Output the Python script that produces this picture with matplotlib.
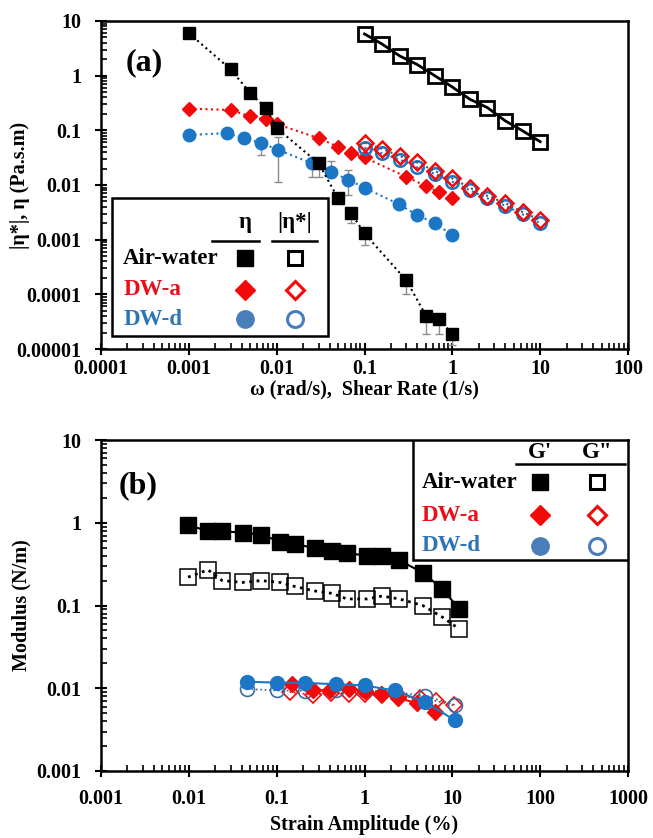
import matplotlib
matplotlib.use("Agg")
import matplotlib.pyplot as plt
from matplotlib.patches import Rectangle
from matplotlib.lines import Line2D
from matplotlib.ticker import LogLocator, NullFormatter, FixedLocator, FixedFormatter
import numpy as np

plt.rcParams['font.family'] = ['Liberation Serif', 'DejaVu Serif']
plt.rcParams['font.weight'] = 'bold'

RED = '#f20a0a'
BLUE = '#1c76c6'
LEG_BLUE = '#4a7ebb'
TXT_BLUE = '#2e75b6'

# ---------------- Panel (a) data ----------------
aw_eta_x = [0.001, 0.003, 0.005, 0.0075, 0.01, 0.03, 0.05, 0.07, 0.1, 0.3, 0.5, 0.7, 1.0]
aw_eta_y = [6.0, 1.3, 0.48, 0.26, 0.11, 0.025, 0.0057, 0.0031, 0.0013, 0.00018, 0.000041, 0.000035, 0.000019]
aw_eta_lo = [0, 0, 0, 0, 0, 0.014, 0, 0.002, 0.0008, 0.0001, 0.000019, 0.000019, 0.000012]

dwa_eta_x = [0.001, 0.003, 0.005, 0.0075, 0.01, 0.03, 0.05, 0.07, 0.1, 0.3, 0.5, 0.7, 1.0]
dwa_eta_y = [0.25, 0.235, 0.18, 0.16, 0.13, 0.072, 0.05, 0.039, 0.032, 0.014, 0.0096, 0.0074, 0.0057]

dwd_eta_x = [0.001, 0.0027, 0.0042, 0.0066, 0.0104, 0.025, 0.042, 0.065, 0.1, 0.25, 0.4, 0.64, 1.0]
dwd_eta_y = [0.082, 0.089, 0.072, 0.059, 0.044, 0.025, 0.017, 0.0126, 0.0089, 0.0044, 0.0028, 0.002, 0.0012]
dwd_eta_lo = [0, 0, 0, 0.035, 0.0115, 0.014, 0.014, 0.0065, 0, 0, 0, 0, 0]
dwd_eta_hi = [0, 0, 0, 0, 0.075, 0.026, 0.028, 0.019, 0, 0, 0, 0, 0]

omega = [0.1, 0.158, 0.251, 0.398, 0.631, 1.0, 1.585, 2.512, 3.981, 6.31, 10.0]
aw_star = [5.8, 3.8, 2.3, 1.6, 1.0, 0.62, 0.37, 0.26, 0.15, 0.098, 0.062]
dwa_star = [0.059, 0.046, 0.034, 0.026, 0.018, 0.0132, 0.0089, 0.0063, 0.0047, 0.0032, 0.0023]
dwd_star = [0.048, 0.038, 0.029, 0.021, 0.016, 0.0115, 0.0080, 0.0057, 0.0042, 0.0029, 0.0020]

# ---------------- Panel (b) data ----------------
aw_strain = [0.0098, 0.0165, 0.024, 0.041, 0.066, 0.11, 0.16, 0.27, 0.43, 0.63, 1.07, 1.58, 2.5, 4.6, 7.6, 12.0]
aw_Gp = [0.93, 0.80, 0.79, 0.76, 0.72, 0.59, 0.56, 0.49, 0.46, 0.43, 0.40, 0.40, 0.35, 0.25, 0.16, 0.091]
aw_Gpp = [0.22, 0.27, 0.20, 0.19, 0.20, 0.19, 0.17, 0.15, 0.14, 0.12, 0.12, 0.13, 0.12, 0.10, 0.073, 0.052]

dwa_strain = [0.15, 0.26, 0.4, 0.66, 1.0, 1.55, 2.4, 4.0, 6.3]
dwa_Gp = [0.0112, 0.0094, 0.0094, 0.0097, 0.0093, 0.0085, 0.0076, 0.0066, 0.0052]
dwa_strain2 = [0.14, 0.26, 0.42, 0.66, 1.0, 1.6, 2.5, 4.3, 6.6, 10.5]
dwa_Gpp = [0.009, 0.0083, 0.0087, 0.0086, 0.0085, 0.0084, 0.008, 0.0076, 0.007, 0.0062]

dwd_strain = [0.046, 0.1, 0.21, 0.47, 1.0, 2.2, 4.9, 10.7]
dwd_Gp = [0.0120, 0.0117, 0.0116, 0.0112, 0.0108, 0.0094, 0.0068, 0.0041]
dwd_Gpp = [0.0098, 0.0094, 0.0093, 0.0094, 0.0095, 0.009, 0.0081, 0.0063]

W, H = 653, 838
fig = plt.figure(figsize=(W / 100, H / 100), dpi=100)

def frac_axes(x0, y0, x1, y1):
    return fig.add_axes([x0 / W, 1 - y1 / H, (x1 - x0) / W, (y1 - y0) / H])

axA = frac_axes(101, 21, 628, 349)
axB = frac_axes(101, 440, 628, 771)

def style_axis(ax, xlim, ylim, xticks, xlabels, yticks, ylabels, xpad):
    ax.set_xscale('log')
    ax.set_yscale('log')
    ax.set_xlim(*xlim)
    ax.set_ylim(*ylim)
    ax.xaxis.set_major_locator(FixedLocator(xticks))
    ax.xaxis.set_major_formatter(FixedFormatter(xlabels))
    ax.yaxis.set_major_locator(FixedLocator(yticks))
    ax.yaxis.set_major_formatter(FixedFormatter(ylabels))
    ax.xaxis.set_minor_locator(LogLocator(base=10, subs=np.arange(2, 10), numticks=20))
    ax.yaxis.set_minor_locator(LogLocator(base=10, subs=np.arange(2, 10), numticks=20))
    ax.xaxis.set_minor_formatter(NullFormatter())
    ax.yaxis.set_minor_formatter(NullFormatter())
    ax.tick_params(which='major', direction='inout', length=8, width=1.5, labelsize=14.5)
    ax.tick_params(axis='x', which='major', pad=xpad)
    ax.tick_params(axis='y', which='major', pad=10)
    ax.tick_params(which='minor', direction='in', length=4, width=1.2)
    ax.tick_params(top=False, right=False, which='both')
    for s in ax.spines.values():
        s.set_linewidth(1.8)
    for lab in ax.get_xticklabels() + ax.get_yticklabels():
        lab.set_fontweight('bold')

style_axis(axA, (1e-4, 100), (1e-5, 10),
           [1e-4, 1e-3, 1e-2, 1e-1, 1, 10, 100],
           ['0.0001', '0.001', '0.01', '0.1', '1', '10', '100'],
           [1e-5, 1e-4, 1e-3, 1e-2, 1e-1, 1, 10],
           ['0.00001', '0.0001', '0.001', '0.01', '0.1', '1', '10'], 3)
style_axis(axB, (1e-3, 1000), (1e-3, 10),
           [1e-3, 1e-2, 1e-1, 1, 10, 100, 1000],
           ['0.001', '0.01', '0.1', '1', '10', '100', '1000'],
           [1e-3, 1e-2, 1e-1, 1, 10],
           ['0.001', '0.01', '0.1', '1', '10'], 9)

LEG_FS = 16.5

# ---------- Panel (a) plotting ----------
ax = axA
aw_y = np.array(aw_eta_y)
lo = np.array(aw_eta_lo)
mask = lo > 0
ax.errorbar(np.array(aw_eta_x)[mask], aw_y[mask],
            yerr=[aw_y[mask] - lo[mask], np.zeros(mask.sum())],
            fmt='none', ecolor='#8c8c8c', elinewidth=1, capsize=3, zorder=2)
dy = np.array(dwd_eta_y)
dlo = np.array(dwd_eta_lo)
dhi = np.array(dwd_eta_hi)
m2 = dlo > 0
ax.errorbar(np.array(dwd_eta_x)[m2], dy[m2],
            yerr=[dy[m2] - dlo[m2], np.where(dhi[m2] > 0, dhi[m2] - dy[m2], 0)],
            fmt='none', ecolor='#8c8c8c', elinewidth=1, capsize=3, zorder=2)

ax.plot(dwa_eta_x, dwa_eta_y, linestyle=':', color=RED, lw=1.5, marker='D',
        markersize=7.5, markerfacecolor=RED, markeredgecolor=RED, zorder=3)
ax.plot(dwd_eta_x, dwd_eta_y, linestyle=':', color=BLUE, lw=1.5, marker='o',
        markersize=9, markerfacecolor=BLUE, markeredgecolor=BLUE, zorder=3)
ax.plot(omega, dwd_star, linestyle=':', color=BLUE, lw=1.5, marker='o',
        markersize=9, markerfacecolor='none', markeredgecolor=BLUE, markeredgewidth=1.8, zorder=4)
ax.plot(omega, dwa_star, linestyle=':', color='#555555', lw=1.5, marker='D',
        markersize=8, markerfacecolor='none', markeredgecolor=RED, markeredgewidth=1.8, zorder=5)
ax.plot(aw_eta_x, aw_eta_y, linestyle=':', color='black', lw=1.5, marker='s',
        markersize=9, markerfacecolor='black', markeredgecolor='black', zorder=6)
ax.plot(omega, aw_star, linestyle='-', color='black', lw=2, marker='s',
        markersize=10, markerfacecolor='none', markeredgecolor='black', markeredgewidth=2, zorder=6)

ax.text(0.083, 0.872, '(a)', transform=ax.transAxes, fontsize=23, fontweight='bold',
        ha='center', va='center')
ax.set_xlabel('ω (rad/s),  Shear Rate (1/s)', fontsize=14.5, fontweight='bold')
ax.set_ylabel('|η*|, η (Pa.s.m)', fontsize=14.5, fontweight='bold')
ax.xaxis.set_label_coords(0.5, -0.092)
ax.yaxis.set_label_coords(-0.135, 0.5)

# legend (a)
ax.add_patch(Rectangle((0.021, 0.04), 0.41, 0.42, transform=ax.transAxes,
                       facecolor='white', edgecolor='black', lw=1.8, zorder=10))
ax.text(0.273, 0.387, 'η', transform=ax.transAxes, fontsize=LEG_FS, fontweight='bold',
        ha='center', va='center', zorder=11)
ax.text(0.368, 0.387, '|η*|', transform=ax.transAxes, fontsize=LEG_FS, fontweight='bold',
        ha='center', va='center', zorder=11)
for x0, x1 in [(0.211, 0.300), (0.3245, 0.41)]:
    ax.add_line(Line2D([x0, x1], [0.329, 0.329], transform=ax.transAxes, color='black',
                       lw=1.8, zorder=11))

MK_FILLED = {'s': 12, 'D': 10.5, 'o': 12.5}
MK_OPEN = {'s': 10, 'D': 9.5, 'o': 11.5}

def legend_rows(ax, rows, xtext, xm1, xm2):
    for name, tcol, yy, mk, fc, ec in rows:
        ax.text(xtext, yy, name, transform=ax.transAxes, fontsize=LEG_FS, fontweight='bold',
                color=tcol, ha='left', va='center', zorder=11)
        ax.add_line(Line2D([xm1], [yy], transform=ax.transAxes, marker=mk, markersize=MK_FILLED[mk],
                           markerfacecolor=fc, markeredgecolor=ec, linestyle='none', zorder=11))
        ax.add_line(Line2D([xm2], [yy], transform=ax.transAxes, marker=mk, markersize=MK_OPEN[mk],
                           markerfacecolor='white', markeredgecolor=ec, markeredgewidth=2.2,
                           linestyle='none', zorder=11))

rowsA = [('Air-water', 'black', 0.277, 's', 'black', 'black'),
         ('DW-a', '#e8101a', 0.18, 'D', RED, RED),
         ('DW-d', TXT_BLUE, 0.091, 'o', LEG_BLUE, LEG_BLUE)]
legend_rows(ax, rowsA, 0.042, 0.273, 0.368)

# ---------- Panel (b) plotting ----------
ax = axB
ax.plot(aw_strain, aw_Gpp, linestyle=':', color='black', lw=2, marker='s',
        markersize=11, markerfacecolor='none', markeredgecolor='black', markeredgewidth=1.1, zorder=3)
ax.plot(aw_strain, aw_Gp, linestyle='-', color='black', lw=1.5, marker='s',
        markersize=11, markerfacecolor='black', markeredgecolor='black', zorder=4)
ax.plot(dwa_strain2, dwa_Gpp, linestyle=':', color=RED, lw=1.2, marker='D',
        markersize=8, markerfacecolor='none', markeredgecolor=RED, markeredgewidth=1.2, zorder=3)
ax.plot(dwd_strain, dwd_Gpp, linestyle=':', color='#3a5f8f', lw=1.2, marker='o',
        markersize=10, markerfacecolor='none', markeredgecolor='#3a6ea5', markeredgewidth=1.2, zorder=3)
ax.plot(dwa_strain, dwa_Gp, linestyle='-', color=RED, lw=1.5, marker='D',
        markersize=8, markerfacecolor=RED, markeredgecolor=RED, zorder=4)
ax.plot(dwd_strain, dwd_Gp, linestyle='-', color=BLUE, lw=1.5, marker='o',
        markersize=10, markerfacecolor=BLUE, markeredgecolor=BLUE, zorder=5)

ax.text(0.07, 0.863, '(b)', transform=ax.transAxes, fontsize=23, fontweight='bold',
        ha='center', va='center')
ax.set_xlabel('Strain Amplitude (%)', fontsize=14.5, fontweight='bold')
ax.set_ylabel('Modulus (N/m)', fontsize=14.5, fontweight='bold')
ax.xaxis.set_label_coords(0.5, -0.133)
ax.yaxis.set_label_coords(-0.131, 0.5)

# legend (b)
ax.add_patch(Rectangle((0.592, 0.638), 0.408, 0.362, transform=ax.transAxes,
                       facecolor='white', edgecolor='black', lw=1.8, zorder=10))
ax.text(0.833, 0.962, "G'", transform=ax.transAxes, fontsize=LEG_FS, fontweight='bold',
        ha='center', va='center', zorder=11)
ax.text(0.941, 0.962, 'G"', transform=ax.transAxes, fontsize=LEG_FS, fontweight='bold',
        ha='center', va='center', zorder=11)
ax.add_line(Line2D([0.787, 0.994], [0.927, 0.927], transform=ax.transAxes, color='black',
                   lw=1.8, zorder=11))
rowsB = [('Air-water', 'black', 0.872, 's', 'black', 'black'),
         ('DW-a', '#e8101a', 0.772, 'D', RED, RED),
         ('DW-d', TXT_BLUE, 0.681, 'o', LEG_BLUE, LEG_BLUE)]
legend_rows(ax, rowsB, 0.609, 0.833, 0.941)

fig.savefig('out.png', dpi=100, facecolor='white')
